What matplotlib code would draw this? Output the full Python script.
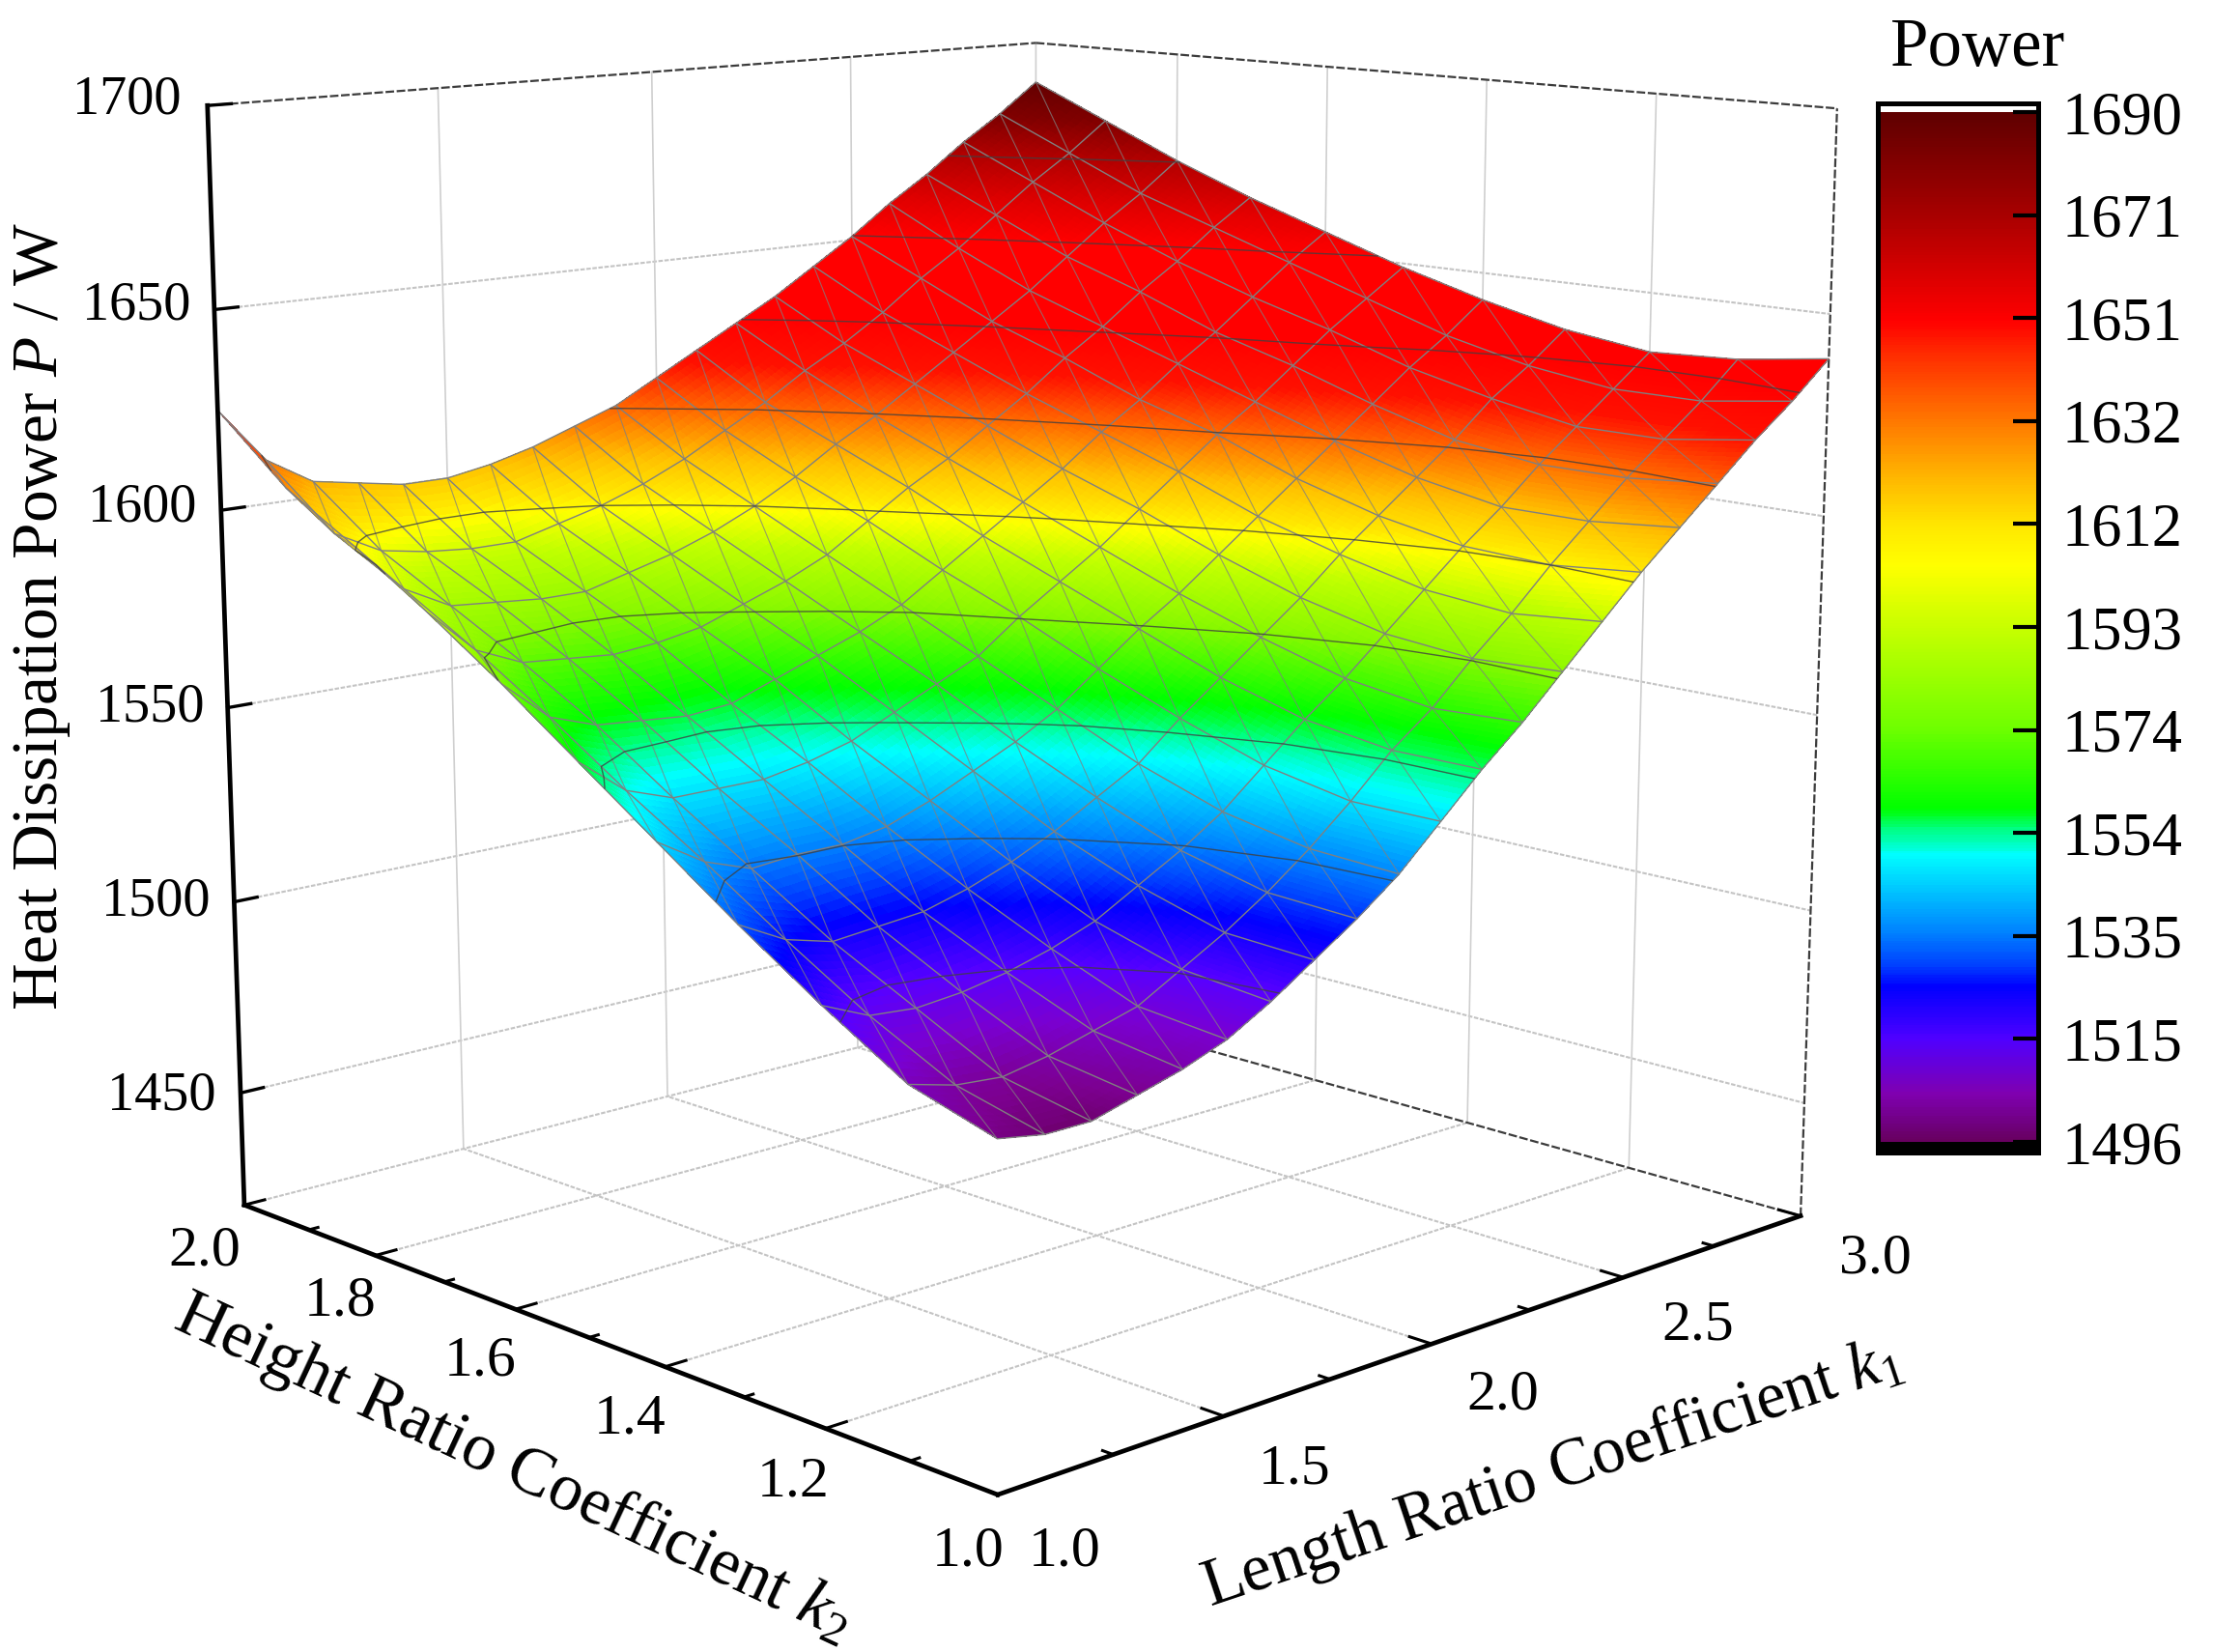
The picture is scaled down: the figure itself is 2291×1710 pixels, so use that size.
import numpy as np
import matplotlib

matplotlib.use("Agg")

import matplotlib.pyplot as plt
from matplotlib.colors import LinearSegmentedColormap, Normalize

plt.rcParams["font.family"] = ["Liberation Serif", "DejaVu Serif"]
plt.rcParams["mathtext.fontset"] = "custom"
plt.rcParams["mathtext.rm"] = "Liberation Serif"
plt.rcParams["mathtext.it"] = "Liberation Serif:italic"

W, H = 2291, 1710

K1 = [1.0, 1.1, 1.2, 1.3, 1.4, 1.5, 1.6, 1.7, 1.8, 1.9, 2.0, 2.1, 2.2, 2.3, 2.4, 2.5, 2.6, 2.7, 2.8, 2.9, 3.0]
K2 = [1.0, 1.1, 1.2, 1.3, 1.4, 1.5, 1.6, 1.7, 1.8, 1.9, 2.0]
# rows: k2, columns: k1
POWER = [
    [1500, 1498, 1498, 1501, 1504, 1508, 1514, 1521, 1528, 1536, 1546, 1556, 1565, 1575, 1585, 1595, 1604, 1613, 1622, 1630, 1639],
    [1506, 1503, 1502, 1504, 1507, 1510, 1516, 1522, 1529, 1537, 1546, 1556, 1564, 1574, 1583, 1593, 1602, 1611, 1619, 1627, 1636],
    [1518, 1513, 1512, 1513, 1515, 1518, 1522, 1528, 1534, 1541, 1550, 1559, 1567, 1576, 1585, 1594, 1602, 1611, 1619, 1627, 1635],
    [1531, 1525, 1522, 1523, 1524, 1527, 1531, 1536, 1542, 1548, 1557, 1565, 1573, 1581, 1590, 1598, 1606, 1614, 1623, 1630, 1638],
    [1545, 1538, 1534, 1535, 1535, 1537, 1541, 1546, 1551, 1557, 1565, 1573, 1580, 1588, 1596, 1604, 1612, 1620, 1628, 1635, 1643],
    [1559, 1550, 1546, 1546, 1546, 1548, 1551, 1556, 1561, 1566, 1574, 1581, 1588, 1596, 1604, 1612, 1619, 1627, 1635, 1642, 1649],
    [1573, 1563, 1559, 1558, 1557, 1558, 1562, 1566, 1570, 1575, 1582, 1589, 1596, 1603, 1611, 1618, 1626, 1633, 1641, 1649, 1656],
    [1586, 1575, 1570, 1569, 1568, 1569, 1571, 1575, 1579, 1584, 1591, 1598, 1604, 1611, 1618, 1626, 1633, 1641, 1648, 1656, 1663],
    [1598, 1586, 1580, 1579, 1578, 1578, 1581, 1584, 1588, 1593, 1599, 1606, 1612, 1619, 1626, 1633, 1640, 1648, 1656, 1663, 1671],
    [1609, 1596, 1590, 1588, 1587, 1587, 1590, 1593, 1597, 1602, 1608, 1614, 1621, 1627, 1634, 1642, 1649, 1657, 1665, 1672, 1680],
    [1625, 1611, 1604, 1602, 1600, 1600, 1602, 1605, 1609, 1613, 1619, 1625, 1631, 1637, 1644, 1651, 1659, 1666, 1674, 1681, 1689],
]

Z_TICKS = [1450, 1500, 1550, 1600, 1650, 1700]
Z_LABELS = ["1450", "1500", "1550", "1600", "1650", "1700"]
K1_TICKS = [1.0, 1.5, 2.0, 2.5, 3.0]
K1_MINOR = [1.25, 1.75, 2.25, 2.75]
K1_LABELS = ["1.0", "1.5", "2.0", "2.5", "3.0"]
K2_TICKS = [1.0, 1.2, 1.4, 1.6, 1.8, 2.0]
K2_MINOR = [1.1, 1.3, 1.5, 1.7, 1.9]
K2_LABELS = ["1.0", "1.2", "1.4", "1.6", "1.8", "2.0"]
CBAR_TICKS = [1496, 1515.4, 1534.8, 1554.2, 1573.6, 1593, 1612.4, 1631.8, 1651.2, 1670.6, 1690]
CBAR_LABELS = ["1496", "1515", "1535", "1554", "1574", "1593", "1612", "1632", "1651", "1671", "1690"]

# colour stops of the legend bar
BAR_Z = [1496, 1499, 1504.7, 1515, 1525, 1529, 1535, 1550, 1552, 1555, 1557, 1558.5, 1574, 1593, 1604.7, 1612, 1621, 1632, 1644, 1651, 1671, 1690]
BAR_C = ["#680060", "#700080", "#8000b0", "#5000ff", "#0000ff", "#0040ff", "#0080ff", "#00ffff", "#00ffc0", "#00ff80", "#00ff30", "#00ff00",
         "#70ff00", "#c8ff00", "#ffff00", "#ffe800", "#ffb800", "#ff7800", "#ff3000", "#ff0000", "#a80000", "#600000"]
# the surface itself runs ahead of the bar above about 1574
SURF_Z = [1496, 1501, 1508, 1515, 1524.4, 1529, 1535, 1549, 1552, 1554, 1557, 1560, 1574, 1585, 1592, 1595, 1602, 1608, 1615, 1622, 1632, 1651, 1660, 1671, 1680, 1690]
SURF_C = ["#680060", "#7c0090", "#7a00d0", "#5800ff", "#0000ff", "#0040ff", "#0080ff", "#00ffff", "#00ffc0", "#00ff90", "#00ff40", "#00ff00",
          "#88f800", "#c0ff00", "#ffff00", "#ffe800", "#ffc000", "#ff8c00", "#ff5000", "#ff1000", "#ff0000", "#ff0000", "#e00000", "#b00000", "#800000", "#600000"]

ZMIN, ZMAX = 1420.3, 1700
VMIN, VMAX = 1496, 1690
S = W / 1568


def make_cmap(name, zs, cs):
    stops = [((z - VMIN) / (VMAX - VMIN), c) for z, c in zip(zs, cs)]
    return LinearSegmentedColormap.from_list(name, stops, N=512)


def fx(px):
    return px / W


def fy(py):
    return 1 - py / H


bar_cmap = make_cmap("bar", BAR_Z, BAR_C)
surf_cmap = make_cmap("surf", SURF_Z, SURF_C)
norm = Normalize(VMIN, VMAX)
k1 = np.array(K1)
k2 = np.array(K2)
power = np.array(POWER, dtype=float)

fig = plt.figure(figsize=(W / 100, H / 100), dpi=100)
side = 1960.2
ax = fig.add_axes([48.7 / W, 8.45 / H, side / W, side / H], projection="3d", computed_zorder=False)
ax.set_axis_off()
ax.patch.set_alpha(0)
ax.view_init(elev=11.6951, azim=-133.6292, roll=0.0237)
ax.set_proj_type("persp", focal_length=0.4845)
ax.set_box_aspect((1, 1, 1))
ax.set_xlim(1, 3, view_margin=0)
ax.set_ylim(1, 2, view_margin=0)
ax.set_zlim(ZMIN, ZMAX, view_margin=0)

GRID = dict(color="#c4c4c4", lw=1.5, ls=(0, (2.2, 0.8)), zorder=1)
WALL = dict(color="#cfcfcf", lw=1.2, zorder=1)
for k in K1_TICKS[1:-1]:
    ax.plot([k, k], [1, 2], [ZMIN, ZMIN], **GRID)
for k in K2_TICKS[1:-1]:
    ax.plot([1, 3], [k, k], [ZMIN, ZMIN], **GRID)
for z in Z_TICKS[:-1]:
    ax.plot([1, 3], [2, 2], [z, z], **GRID)
    ax.plot([3, 3], [2, 1], [z, z], **GRID)
for k in K1_TICKS[1:]:
    ax.plot([k, k], [2, 2], [ZMIN, ZMAX], **WALL)
for k in K2_TICKS[1:-1]:
    ax.plot([3, 3], [k, k], [ZMIN, ZMAX], **WALL)
ax.plot([1, 3], [2, 2], [ZMIN, ZMIN], **GRID)

EDGE = dict(color="#3c3c3c", lw=1.6, ls=(0, (4, 1.2)), zorder=1.5)
ax.plot([1, 3], [2, 2], [ZMAX, ZMAX], **EDGE)
ax.plot([3, 3], [2, 1], [ZMAX, ZMAX], **EDGE)
ax.plot([3, 3], [2, 1], [ZMIN, ZMIN], **EDGE)
ax.plot([3, 3], [1, 1], [ZMIN, ZMAX], **EDGE)

# subdivide each mesh cell for smooth shading, the mesh stays on the table values
k1f = np.linspace(1, 3, 201)
k2f = np.linspace(1, 2, 101)
fine = np.array([np.interp(k1f, k1, row) for row in power])
fine = np.array([np.interp(k2f, k2, col) for col in fine.T]).T
Xf, Yf = np.meshgrid(k1f, k2f)
ax.plot_surface(Xf, Yf, fine, rstride=1, cstride=1, cmap=surf_cmap, norm=norm, shade=False,
                linewidth=0, antialiased=False, zorder=2)

X, Y = np.meshgrid(k1, k2)
ax.plot_wireframe(X, Y, power, rstride=1, cstride=1, color="#808080", lw=1.0, zorder=3)
n1, n2 = len(K1), len(K2)
for j in range(1, n1 + n2 - 2):
    ii = [i for i in range(n2) if 0 <= j - (n2 - 1 - i) < n1]
    jj = [j - (n2 - 1 - i) for i in ii]
    ax.plot(k1[jj], k2[ii], power[ii, jj], color="#808080", lw=0.8, alpha=0.75, zorder=3)
ax.contour(X, Y, power, levels=CBAR_TICKS[1:-1], colors="#404040", linewidths=1.0, alpha=0.8, zorder=4)

AXIS = dict(color="black", lw=3.4, zorder=6, solid_capstyle="projecting")
ax.plot([1, 1], [2, 2], [ZMIN, ZMAX], **AXIS)
ax.plot([1, 1], [1, 2], [ZMIN, ZMIN], **AXIS)
ax.plot([1, 3], [1, 1], [ZMIN, ZMIN], **AXIS)
for z in Z_TICKS:
    ax.plot([1, 1.05], [2, 2], [z, z], color="black", lw=2.4, zorder=6)
for k in K2_TICKS:
    ax.plot([1, 1.045], [k, k], [ZMIN, ZMIN], color="black", lw=2.2, zorder=6)
for k in K2_MINOR:
    ax.plot([1, 1.02], [k, k], [ZMIN, ZMIN], color="black", lw=2.2, zorder=6)
for k in K1_TICKS:
    ax.plot([k, k], [1, 1.025], [ZMIN, ZMIN], color="black", lw=2.2, zorder=6)
for k in K1_MINOR:
    ax.plot([k, k], [1, 1.012], [ZMIN, ZMIN], color="black", lw=2.2, zorder=6)

for lab, right, yc in zip(Z_LABELS, [223, 218, 212, 203, 197, 188], [1128, 928, 726, 520, 310, 97]):
    fig.text(fx(right), fy(yc), lab, fontsize=40.5, ha="right", va="center_baseline")
for lab, xc, yc in zip(K2_LABELS, [686, 562, 446, 340, 241, 145], [1095, 1046, 1001, 960, 918, 882]):
    fig.text(fx(xc * S), fy(yc * S), lab, fontsize=43, ha="center", va="center_baseline")
for lab, xc, yc in zip(K1_LABELS, [754, 917, 1065, 1203, 1329], [1095, 1037, 984, 935, 888]):
    fig.text(fx(xc * S), fy(yc * S), lab, fontsize=43, ha="center", va="center_baseline")

fig.text(fx(44), fy(437 * S), r"Heat Dissipation Power $P$ / W", fontsize=48.5, rotation=90,
         ha="center", va="center", rotation_mode="anchor")
fig.text(fx(364 * S), fy(1040 * S), r"Height Ratio Coefficient $k_2$", fontsize=50.5, rotation=-25,
         ha="center", va="center", rotation_mode="anchor")
fig.text(fx(1100 * S), fy(1045 * S), r"Length Ratio Coefficient $k_1$", fontsize=49.5, rotation=18.5,
         ha="center", va="center", rotation_mode="anchor")

cx0, cx1, cy0, cy1 = 1944, 2110, 107, 1193
cax = fig.add_axes([cx0 / W, 1 - cy1 / H, (cx1 - cx0) / W, (cy1 - cy0) / H])
vals = np.linspace(VMIN, VMAX, 389)[:, None]
cax.imshow(vals, origin="lower", extent=[0, 1, VMIN, VMAX], aspect="auto", cmap=bar_cmap, norm=norm, interpolation="nearest")
per_px = (VMAX - VMIN) / (1182 - 116)
lo = VMIN - (cy1 - 1182) * per_px
hi = VMAX + (116 - cy0) * per_px
cax.axhspan(lo, VMIN, color="black", lw=0)
cax.set_ylim(lo, hi)
cax.set_xlim(0, 1)
cax.set_xticks([])
cax.yaxis.tick_right()
cax.set_yticks(CBAR_TICKS, CBAR_LABELS)
cax.tick_params(axis="y", direction="in", length=19, width=3, pad=18, labelsize=45)
for sp in cax.spines.values():
    sp.set_linewidth(3.6)
fig.text(fx(2048), fy(68), "Power", fontsize=51, ha="center", va="baseline")

fig.savefig("out.png", dpi=100)
